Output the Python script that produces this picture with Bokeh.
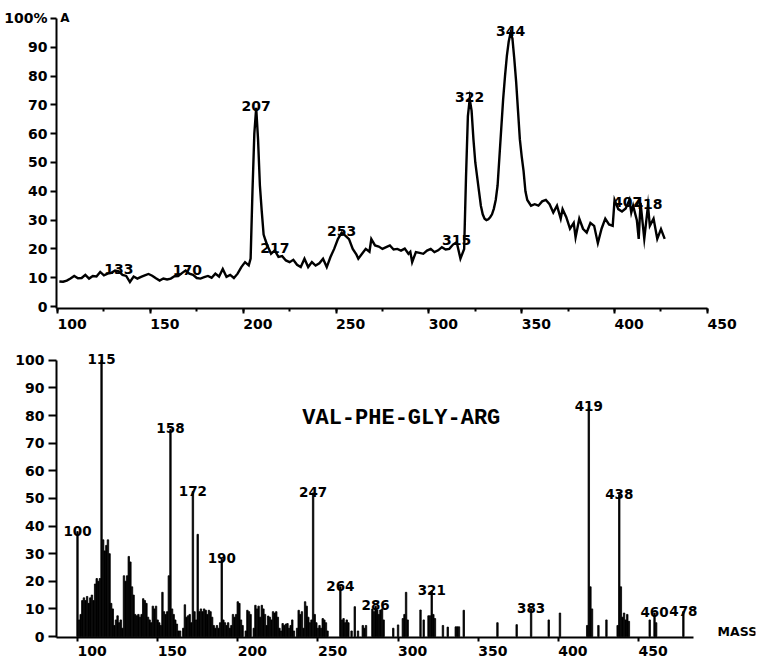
import numpy as np
from bokeh.plotting import figure
from bokeh.layouts import column
from bokeh.models import Range1d, SingleIntervalTicker, Label
from bokeh.core.properties import value
from bokeh.embed import file_html
from bokeh.resources import INLINE

# ---------------- upper panel: reconstructed ion current vs scan number
scan = [101, 103, 105, 107, 109, 111, 113, 115, 117, 119,
        121, 123, 125, 127, 129, 131, 133, 135, 137, 139,
        141, 143, 145, 147, 149, 151, 153, 155, 157, 159,
        161, 163, 165, 167, 169, 171, 173, 175, 177, 179,
        181, 183, 185, 187, 189, 191, 193, 195, 197, 199,
        201, 203, 204, 205, 206, 207, 208, 209, 210, 211,
        212, 213, 215, 217, 219, 221, 223, 225, 227, 229,
        231, 233, 235, 237, 239, 241, 243, 245, 247, 249,
        251, 253, 255, 257, 259, 261, 262, 264, 266, 268,
        269, 271, 273, 275, 277, 279, 281, 283, 285, 287,
        289, 290, 291, 293, 295, 297, 299, 301, 303, 305,
        307, 309, 311, 313, 315, 317, 319, 320, 321, 322,
        323, 324, 325, 326, 327, 328, 329, 330, 331, 332,
        333, 334, 335, 336, 337, 338, 339, 340, 341, 342,
        343, 344, 345, 346, 347, 348, 349, 350, 351, 352,
        353, 355, 357, 359, 361, 363, 365, 367, 369, 371,
        372, 374, 376, 378, 379, 381, 383, 385, 387, 389,
        391, 393, 395, 397, 399, 400, 402, 404, 406, 408,
        409, 410, 412, 413, 414, 416, 418, 419, 421, 423,
        425, 427]
tic = [8.7, 8.6, 9.0, 9.7, 10.6, 9.8, 9.9, 11.0, 9.7, 10.6,
       10.4, 12.0, 10.8, 11.4, 11.7, 12.5, 12.2, 11.0, 10.6, 8.5,
       10.4, 9.7, 10.3, 10.8, 11.3, 10.7, 9.8, 9.0, 9.7, 9.4,
       9.7, 10.5, 10.6, 11.6, 12.5, 11.4, 11.0, 9.9, 9.7, 10.2,
       10.6, 10.0, 11.4, 10.4, 13.0, 10.3, 11.0, 9.9, 11.4, 13.7,
       15.4, 14.3, 16.6, 40, 60, 69, 58, 42, 33, 25,
       23, 21.2, 18.3, 19.5, 17.2, 17.5, 16, 15.4, 16.2, 14.5,
       13.7, 16.6, 13.7, 15.4, 14.2, 15, 16.6, 13.7, 17.2, 20,
       23.4, 25.6, 24.6, 23.4, 20, 18, 16.6, 18.3, 20, 19,
       23.4, 21.2, 20.8, 20, 20.6, 21.2, 19.8, 20, 19.4, 20.1,
       18.3, 19, 15.4, 18.9, 18.6, 18.3, 19.4, 20, 18.9, 19.5,
       20.6, 19.8, 20, 21.5, 22.3, 16.6, 20, 45, 66, 72,
       68, 58, 50, 45, 40, 35, 32, 30.5, 30, 30.3,
       31, 32, 34, 37, 42, 52, 62, 72, 80, 87,
       92, 95, 93, 86, 78, 68, 58, 52, 47, 40,
       37, 35, 35.5, 35, 36.5, 37, 35.5, 32.6, 35, 30.5,
       33.8, 31, 27, 29, 24, 30.5, 27, 25.7, 29, 28,
       22, 27, 30.5, 28.5, 28, 37, 33.8, 33, 34, 37,
       32.6, 35, 30, 23.5, 36, 23.5, 35, 28, 30.5, 23.5,
       26.9, 23.5]
tic_peaks = [133, 170, 207, 217, 253, 315, 322, 344, 407, 418]
scan_ticks = [100, 150, 200, 250, 300, 350, 400, 450]

# ---------------- lower panel: mass spectrum of the tetrapeptide
mass = [100, 101, 102, 103, 104, 105, 106, 107, 108, 109,
        110, 111, 112, 113, 114, 115, 116, 117, 118, 119,
        120, 121, 122, 123, 124, 125, 126, 127, 128, 129,
        130, 131, 132, 133, 134, 135, 136, 137, 138, 139,
        140, 141, 142, 143, 144, 145, 146, 147, 148, 149,
        150, 151, 152, 153, 154, 155, 156, 157, 158, 159,
        160, 161, 162, 163, 164, 166, 167, 168, 169,
        170, 171, 172, 173, 174, 175, 176, 177, 178, 179,
        180, 181, 182, 183, 184, 185, 186, 187, 188, 189,
        190, 191, 192, 193, 194, 195, 196, 197, 198, 199,
        200, 201, 202, 203, 205, 206, 207, 208,
        210, 211, 212, 213, 214, 215, 216, 217, 218, 219,
        220, 221, 222, 223, 224, 225, 226, 227, 228, 229,
        230, 231, 232, 233, 234, 235, 237, 238, 239,
        240, 241, 242, 243, 244, 245, 246, 247, 248, 249,
        250, 251, 252, 253, 254, 255, 256,
        264, 265, 266, 267, 268, 269, 271, 273, 275, 278, 279, 280,
        284, 285, 286, 287, 288, 289, 290, 291, 297,
        300, 303, 304, 305, 306, 314, 316, 319, 320, 321, 322, 323, 328, 331, 336, 337, 338, 341,
        362, 374, 383, 394, 401,
        418, 419, 420, 421, 425, 430, 437, 438, 439, 440, 441, 442, 443, 444,
        457, 460, 461, 478]
rel_int = [38, 6, 8, 13, 14, 13, 14.5, 12, 14, 15,
           13, 19, 21, 20, 21, 100, 35, 31, 33, 35,
           30, 12, 10, 4, 6, 7.5, 5, 6, 3, 22,
           20, 22, 29, 27, 18, 15, 8, 7.5, 8, 7,
           8, 13.7, 13, 12, 7, 6, 5, 11, 10, 11,
           6, 5, 4, 16, 9, 8, 9, 22, 75, 10,
           8, 6, 4.5, 2, 2, 3, 11.5, 7, 7.5,
           8, 5, 52.5, 9, 6, 37, 9, 10, 9, 10,
           9.5, 8, 9.5, 9, 7, 4, 3, 4, 3, 5,
           28, 6, 5, 4, 5, 3, 4, 8, 7, 8,
           12.6, 12, 6, 4, 2, 9.5, 9, 8,
           3, 11.3, 10, 11, 7, 11.3, 10, 8, 4, 7.4,
           7, 6, 9, 8.5, 9, 7, 3, 2, 4.7, 4,
           4.5, 4.7, 3, 4, 6, 2, 3, 9.5, 8,
           9, 3, 12.6, 11, 7, 5, 6, 52, 8, 5,
           3, 4, 3, 6.5, 6, 5, 2,
           18, 6, 6.5, 5, 6, 5, 2, 10.8, 2, 4, 3, 4,
           10, 9, 11, 9.6, 8, 9.6, 10, 6, 3,
           4.2, 6.5, 8, 16, 6, 9.6, 6, 7.5, 7.5, 16.5, 8, 6.5, 4, 3.4, 3.5, 3.5, 3.5, 9.5,
           5, 4.3, 10, 6, 8.5,
           4, 83, 18, 10, 4, 6, 4, 51.4, 18, 7, 8.5, 6, 8, 5.5,
           6, 8.5, 5, 9]
mass_peaks = [100, 115, 158, 172, 190, 247, 264, 286, 321, 383, 419, 438, 460, 478]
mass_ticks = [100, 150, 200, 250, 300, 350, 400, 450]
compound = "VAL-PHE-GLY-ARG"

FONT = "DejaVu Sans"
PAD = "\u2007" * 3  # figure spaces: the tick number starts at its tick, as on the plotter

# both panels share the same side borders (the column lines the frames up);
# the frames run almost to the right edge and the axis lines are cut with bounds
LEFT, RIGHT = 56, 2


def style_axes(p, size):
    for ax in p.axis:
        ax.axis_line_color = "black"
        ax.axis_line_width = 2
        ax.major_tick_line_color = "black"
        ax.major_tick_line_width = 2
        ax.minor_tick_line_color = "black"
        ax.minor_tick_line_width = 2
        ax.major_tick_in = 0
        ax.minor_tick_in = 0
        ax.major_label_text_font = FONT
        ax.major_label_text_font_style = "bold"
        ax.major_label_text_font_size = size
        ax.major_label_text_color = "black"


# ---------- upper figure
top = figure(width=757, height=334, output_backend="svg", toolbar_location=None,
             x_range=Range1d(99.46, 475.9), y_range=Range1d(-0.69, 103.45),
             min_border_left=LEFT, min_border_right=RIGHT, min_border_top=8, min_border_bottom=24)
top.outline_line_color = None
top.grid.visible = False
top.xaxis.ticker = SingleIntervalTicker(interval=50, num_minor_ticks=2)
top.yaxis.ticker = SingleIntervalTicker(interval=10, num_minor_ticks=0)
style_axes(top, "14px")
top.xaxis.major_tick_out = 5
top.xaxis.minor_tick_out = 3
top.xaxis.major_label_standoff = 2
top.xaxis.bounds = (99.46, 450)
top.xaxis.major_label_overrides = {t: PAD + str(t) for t in scan_ticks}
top.yaxis.major_tick_out = 6
top.yaxis.major_label_standoff = 3
top.yaxis.bounds = (-0.69, 100)
top.yaxis.major_label_overrides = {100: "100%"}

top.line(scan, tic, line_color="black", line_width=2.4, line_join="miter")
top.text(x=tic_peaks, y=list(np.interp(tic_peaks, scan, tic)),
         text=[str(s) for s in tic_peaks],
         text_font=value(FONT), text_font_style="bold", text_font_size="14px",
         text_align="center", text_baseline="bottom", y_offset=3, text_color="black")
top.add_layout(Label(x=101.5, y=100, text="A", text_font=FONT, text_font_style="bold",
                     text_font_size="12px", text_baseline="middle", text_align="left",
                     text_color="black"))

# ---------- lower figure
bot = figure(width=757, height=327, output_backend="svg", toolbar_location=None,
             x_range=Range1d(86.9, 523.0), y_range=Range1d(-0.36, 107.19),
             min_border_left=LEFT, min_border_right=RIGHT, min_border_top=6, min_border_bottom=22)
bot.outline_line_color = None
bot.grid.visible = False
bot.xaxis.ticker = SingleIntervalTicker(interval=50, num_minor_ticks=0)
bot.yaxis.ticker = SingleIntervalTicker(interval=10, num_minor_ticks=0)
style_axes(bot, "14px")
bot.xaxis.major_tick_out = 4
bot.xaxis.major_label_standoff = 1
bot.xaxis.bounds = (86.9, 484.3)
bot.xaxis.major_label_overrides = {t: PAD + str(t) for t in mass_ticks}
bot.yaxis.major_tick_out = 8
bot.yaxis.major_label_standoff = 4
bot.yaxis.bounds = (-0.36, 100)

bot.vbar(x=mass, top=rel_int, bottom=0, width=0.9, fill_color="black",
         line_color="black", line_width=0.8)
height_of = dict(zip(mass, rel_int))
bot.text(x=mass_peaks, y=[height_of[m] for m in mass_peaks],
         text=[str(m) for m in mass_peaks],
         text_font=value(FONT), text_font_style="bold", text_font_size="13.5px",
         text_align="center", text_baseline="bottom", y_offset=4, text_color="black")
bot.add_layout(Label(x=302, y=78.8, text=compound, text_font="Liberation Mono",
                     text_font_style="bold", text_font_size="22px", text_color="black",
                     text_align="center", text_baseline="middle"))
bot.add_layout(Label(x=511.7, y=1.8, text="MASS", text_font=FONT, text_font_style="bold",
                     text_font_size="12.5px", text_align="center", text_baseline="middle",
                     text_color="black"))

page = column(top, bot, spacing=0)
open("out.html", "w").write(file_html(page, INLINE))
